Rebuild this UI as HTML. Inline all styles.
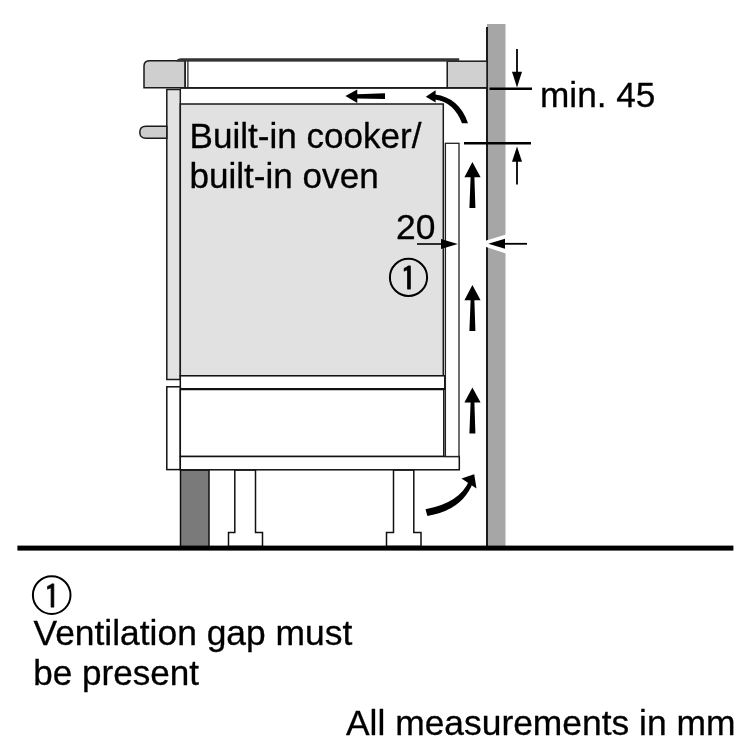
<!DOCTYPE html>
<html lang="en">
<head>
<meta charset="utf-8">
<title>Built-in cooker installation – ventilation gap</title>
<style>
html,body{margin:0;padding:0;background:#fff;}
body{width:750px;height:750px;overflow:hidden;}
svg{display:block;will-change:transform;}
svg text{font-family:"Liberation Sans",Arial,Helvetica,sans-serif;fill:#000;stroke:#000;stroke-width:0.3px;stroke-linejoin:round;}
svg text.n1{font-family:"IPAGothic","Liberation Sans",sans-serif;stroke-width:0.8px;}
</style>
</head>
<body>
<svg width="750" height="750" viewBox="0 0 750 750">
<rect x="0" y="0" width="750" height="750" fill="#fff"/>

<!-- wall -->
<rect x="487" y="24" width="18.5" height="523" fill="#a6a6a6"/>
<rect x="486" y="27" width="2" height="520" fill="#1a1a1a"/>

<!-- plinth -->
<rect x="180.5" y="470" width="28.5" height="77" fill="#7a7a7a" stroke="#111" stroke-width="1.5"/>

<!-- feet -->
<path d="M234.8 470 V532.5 H228.5 V546.5 H262.5 V532.5 H255.5 V470 Z" fill="#fff" stroke="#111" stroke-width="1.5"/>
<path d="M393.5 470 V532.5 H386.5 V546.5 H421 V532.5 H413.8 V470 Z" fill="#fff" stroke="#111" stroke-width="1.5"/>

<!-- floor -->
<rect x="17.4" y="545.6" width="716" height="5" fill="#000"/>

<!-- worktop left -->
<path d="M144 87.8 V66 Q144 60.8 150 60.8 H185.2 V87.8 Z" fill="#cfcfcf" stroke="#1a1a1a" stroke-width="1.5"/>
<!-- worktop right -->
<rect x="447.2" y="61.2" width="39.8" height="26.6" fill="#d0d0d0" stroke="#1a1a1a" stroke-width="1.5"/>
<!-- hob -->
<rect x="185.2" y="60.5" width="262" height="27.3" fill="#fff" stroke="#1a1a1a" stroke-width="1.5"/>
<line x1="187.9" y1="61" x2="187.9" y2="88" stroke="#1a1a1a" stroke-width="1.2"/>
<path d="M175.8 61.2 Q177.5 58.2 181 58.2 H459.2 V61.4 H175.8 Z" fill="#333"/>

<!-- space under hob -->
<line x1="180" y1="87.9" x2="487" y2="87.9" stroke="#1a1a1a" stroke-width="1.5"/>

<!-- oven door -->
<rect x="166.8" y="89.5" width="13.5" height="290" fill="#e3e3e3" stroke="#1a1a1a" stroke-width="1.5"/>
<!-- handle -->
<path d="M166.8 126.3 H146 Q139.8 126.3 139.8 132.3 Q139.8 138.3 146 138.3 H166.8 Z" fill="#cdcdcd" stroke="#1a1a1a" stroke-width="1.5"/>
<!-- oven body -->
<rect x="180.3" y="104" width="263" height="271.8" fill="#e1e1e1" stroke="#1a1a1a" stroke-width="1.5"/>
<!-- bar -->
<rect x="180.3" y="375.8" width="264.5" height="13.2" fill="#fff" stroke="#111" stroke-width="1.5"/>
<line x1="180.3" y1="389.2" x2="445" y2="389.2" stroke="#000" stroke-width="1.8"/>
<!-- drawer front -->
<rect x="166.8" y="386.8" width="13.5" height="82.8" fill="#fff" stroke="#111" stroke-width="1.5"/>
<!-- drawer body -->
<rect x="180.3" y="389.5" width="263.5" height="67" fill="#fff" stroke="#111" stroke-width="1.5"/>
<!-- base plate -->
<rect x="180.3" y="456.5" width="279" height="13.3" fill="#fff" stroke="#111" stroke-width="1.5"/>
<!-- rear panel -->
<rect x="445.4" y="143.3" width="13.6" height="313.2" fill="#fff" stroke="#222" stroke-width="1.3"/>

<!-- thick arrows up -->
<g fill="#000">
<path id="ua" d="M472.4 162 L480.6 177.2 H474.4 L475.4 208 H469.4 L470.6 177.2 H464.4 Z"/>
<path d="M472.4 285 L480.6 300.2 H474.4 L475.4 331 H469.4 L470.6 300.2 H464.4 Z"/>
<path d="M472.4 387.4 L480.6 402.6 H474.4 L475.4 433.4 H469.4 L470.6 402.6 H464.4 Z"/>
</g>

<!-- left arrow under hob -->
<path d="M345.4 96.1 L357.3 89.4 V94.3 L385 93.2 V98.9 L357.3 98.4 V102.9 Z" fill="#000"/>

<!-- curved arrow top -->
<path d="M468 123.2 Q459 97.5 435 94.6 V99.4 Q454 102 462 123.2 Z" fill="#000"/>
<path d="M425.8 96.8 L435.6 90.2 V102.4 Z" fill="#000"/>

<!-- curved arrow bottom -->
<path d="M425.5 509.2 Q459.5 503 469 481 L473 482.5 Q462.5 510 427.4 516 Z" fill="#000"/>
<path d="M474.2 474.2 L476.5 488.5 L461.5 478.5 Z" fill="#000"/>

<!-- dimension min. 45 -->
<line x1="489.5" y1="88.8" x2="532" y2="88.8" stroke="#000" stroke-width="2.6"/>
<line x1="464" y1="143.3" x2="531" y2="143.3" stroke="#000" stroke-width="2.6"/>
<line x1="517" y1="49" x2="517" y2="75" stroke="#000" stroke-width="1.8"/>
<path d="M517 87.5 L512 71.8 H522 Z" fill="#000"/>
<line x1="517" y1="160" x2="517" y2="184.5" stroke="#000" stroke-width="1.8"/>
<path d="M517 146.5 L512 161.8 H522 Z" fill="#000"/>

<!-- dimension 20 -->
<line x1="417" y1="244" x2="443" y2="244" stroke="#000" stroke-width="1.6"/>
<path d="M457.8 244 L441 239 V249 Z" fill="#000"/>
<path d="M484.5 241 V246.6 L506 253.6 V234.6 Z" fill="#fff"/>
<path d="M488.3 243.8 L505 238.8 V248.8 Z" fill="#000"/>
<line x1="503" y1="243.8" x2="527" y2="243.8" stroke="#000" stroke-width="1.8"/>

<!-- labels -->
<text x="189.5" y="148" font-size="35.1">Built-in cooker/</text>
<text x="189.5" y="188" font-size="35.1">built-in oven</text>
<text x="396" y="238.5" font-size="35.4">20</text>
<text x="540" y="107" font-size="35.2">min. 45</text>

<circle cx="408.5" cy="277.4" r="18.6" fill="none" stroke="#000" stroke-width="2"/>
<text class="n1" x="408.6" y="291.2" font-size="33" text-anchor="middle">1</text>

<circle cx="51.7" cy="595.1" r="18.8" fill="none" stroke="#000" stroke-width="2"/>
<text class="n1" x="52" y="608.8" font-size="33" text-anchor="middle">1</text>

<text x="33.5" y="645.4" font-size="35.4">Ventilation gap must</text>
<text x="33.3" y="685.1" font-size="35.1">be present</text>
<text x="346" y="735" font-size="35.4">All measurements in mm</text>
</svg>
</body>
</html>
